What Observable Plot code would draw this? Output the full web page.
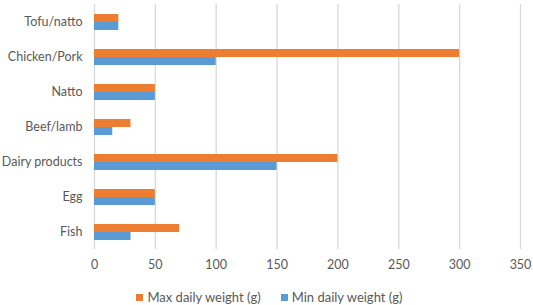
<!DOCTYPE html>
<html>
<head>
<meta charset="utf-8">
<script src="https://cdn.jsdelivr.net/npm/d3@7"></script>
<script src="https://cdn.jsdelivr.net/npm/@observablehq/plot@0.6"></script>
<style>
  html, body { margin: 0; padding: 0; background: #fff; }
  body { width: 533px; height: 305px; overflow: hidden; font-family: Lato, "Open Sans", sans-serif; }
  #legend { display: flex; justify-content: center; gap: 20px; font-size: 13px; color: #595959; margin-top: 7px; padding-left: 6px; }
  #legend span.item { display: inline-flex; align-items: center; }
  #legend span.sw { width: 7px; height: 7px; display: inline-block; margin-right: 4px; }
</style>
</head>
<body>
<div id="chart"></div>
<div id="legend"></div>
<script>
const categories = ["Tofu/natto", "Chicken/Pork", "Natto", "Beef/lamb", "Dairy products", "Egg", "Fish"];
const maxWeight = [20, 300, 50, 30, 200, 50, 70];
const minWeight = [20, 100, 50, 15, 150, 50, 30];
const seriesNames = ["Max daily weight (g)", "Min daily weight (g)"];
const seriesColors = ["#ED7D31", "#5B9BD5"];
const xTicks = [0, 50, 100, 150, 200, 250, 300, 350];

const data = categories.flatMap((c, i) => [
  {category: c, series: seriesNames[0], value: maxWeight[i]},
  {category: c, series: seriesNames[1], value: minWeight[i]}
]);

const chart = Plot.plot({
  width: 533,
  height: 282,
  marginLeft: 94,
  marginRight: 13,
  marginTop: 2,
  marginBottom: 32,
  style: {fontFamily: "Lato, 'Open Sans', sans-serif", fontSize: "12.5px", color: "#595959", background: "#fff"},
  x: {domain: [0, 350], ticks: xTicks, tickSize: 0, tickPadding: 11, label: null},
  y: {domain: seriesNames, axis: null, paddingInner: 0, paddingOuter: 0.97},
  fy: {domain: categories, padding: 0, tickSize: 0, tickPadding: 12, label: null},
  color: {domain: seriesNames, range: seriesColors},
  marks: [
    Plot.gridX(xTicks, {stroke: "#d9d9d9", strokeOpacity: 1, strokeWidth: 1.3}),
    Plot.barX(data, {x: "value", y: "series", fy: "category", fill: "series"})
  ]
});
document.getElementById("chart").appendChild(chart);

const legend = document.getElementById("legend");
seriesNames.forEach((name, i) => {
  const item = document.createElement("span");
  item.className = "item";
  const sw = document.createElement("span");
  sw.className = "sw";
  sw.style.background = seriesColors[i];
  item.appendChild(sw);
  item.appendChild(document.createTextNode(name));
  legend.appendChild(item);
});
</script>
</body>
</html>
